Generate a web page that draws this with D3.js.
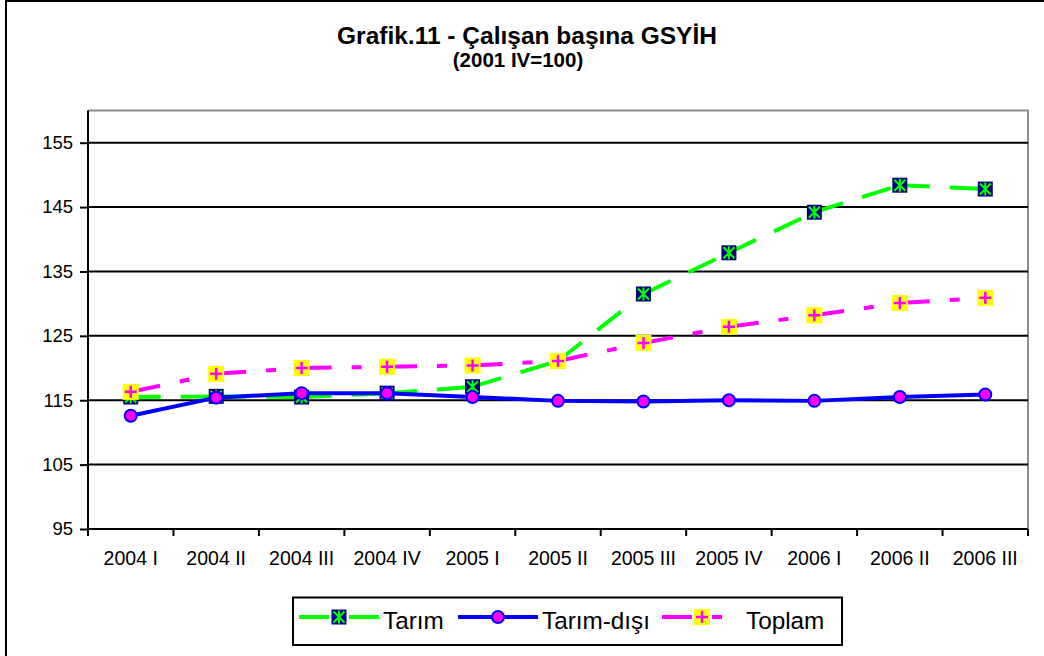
<!DOCTYPE html>
<html>
<head>
<meta charset="utf-8">
<script src="https://cdn.jsdelivr.net/npm/d3@7"></script>
<style>
  body { margin: 0; background: #fff; }
  svg { display: block; font-family: "Liberation Sans", Arial, sans-serif; }
</style>
</head>
<body>
<div id="chart"></div>
<script>
// data
const categories = ["2004 I", "2004 II", "2004 III", "2004 IV", "2005 I", "2005 II",
  "2005 III", "2005 IV", "2006 I", "2006 II", "2006 III"];
const tarim = [115.5, 115.6, 115.5, 116.1, 117.1, 121.1, 131.5, 137.9, 144.2, 148.4, 147.8];
const tarimDisi = [112.6, 115.4, 116.1, 116.1, 115.5, 114.9, 114.8, 115.0, 114.9, 115.5, 115.9];
const toplam = [116.3, 119.1, 120.0, 120.2, 120.4, 121.1, 123.9, 126.4, 128.2, 130.1, 130.9];
const yTicks = [95, 105, 115, 125, 135, 145, 155];

const W = 1044, H = 656;
const svg = d3.select("#chart").append("svg")
  .attr("width", W)
  .attr("height", H);

// outer frame
svg.append("rect")
  .attr("x", 6).attr("y", 1)
  .attr("width", W + 20).attr("height", H + 20)
  .style("fill", "none").style("stroke", "black").style("stroke-width", 2);

// titles
svg.append("text")
  .attr("x", 527).attr("y", 44)
  .attr("text-anchor", "middle")
  .attr("font-size", "24.5px").attr("font-weight", "bold")
  .text("Grafik.11 - Çalışan başına GSYİH");
svg.append("text")
  .attr("x", 518).attr("y", 67)
  .attr("text-anchor", "middle")
  .attr("font-size", "20.5px").attr("font-weight", "bold")
  .text("(2001 IV=100)");

const plotL = 88, plotR = 1028, plotT = 110.5, plotB = 529;
const x = d3.scaleBand().domain(categories).range([plotL, plotR]).padding(0);
const y = d3.scaleLinear().domain([95, 160]).range([plotB, plotT]);
const cx = c => x(c) + x.bandwidth() / 2;

// plot border (top, right) grey
svg.append("path")
  .attr("d", `M${plotL},${plotT}H${plotR}V${plotB}`)
  .style("fill", "none").style("stroke", "#8c8c8c").style("stroke-width", 2);

// gridlines
svg.append("g").selectAll("line")
  .data(yTicks.filter(d => d > 95))
  .join("line")
  .attr("x1", plotL).attr("x2", plotR)
  .attr("y1", d => y(d)).attr("y2", d => y(d))
  .style("stroke", "black").style("stroke-width", 2);

// y axis
const yAxis = svg.append("g")
  .attr("transform", `translate(${plotL},0)`)
  .call(d3.axisLeft(y).tickValues(yTicks).tickSize(8).tickPadding(7));
yAxis.select(".domain").remove();
yAxis.append("line").attr("y1", plotT).attr("y2", plotB)
  .style("stroke", "black").style("stroke-width", 2);
yAxis.selectAll(".tick line").style("stroke", "black").style("stroke-width", 2);
yAxis.selectAll(".tick text")
  .attr("font-size", "18.5px").attr("fill", "black")
  .attr("font-family", "Liberation Sans, Arial, sans-serif");

// x axis
const xg = svg.append("g");
xg.append("line").attr("x1", plotL).attr("x2", plotR)
  .attr("y1", plotB).attr("y2", plotB)
  .style("stroke", "black").style("stroke-width", 2);
xg.selectAll(".xt")
  .data(categories.map(c => x(c)).concat([plotR]))
  .join("line")
  .attr("x1", d => d).attr("x2", d => d)
  .attr("y1", plotB).attr("y2", plotB + 7)
  .style("stroke", "black").style("stroke-width", 2);
xg.selectAll("text")
  .data(categories)
  .join("text")
  .attr("x", d => cx(d)).attr("y", 565)
  .attr("text-anchor", "middle")
  .attr("font-size", "19.5px")
  .text(d => d);

// markers
function drawMarker(g, type, px, py) {
  if (type === "star") {
    const s = 7.5;
    g.append("rect").attr("x", px - s).attr("y", py - s)
      .attr("width", 2 * s).attr("height", 2 * s).style("fill", "#000080");
    const a = 5.5;
    g.append("path")
      .attr("d", `M${px - a},${py - a}L${px + a},${py + a}M${px + a},${py - a}L${px - a},${py + a}M${px},${py - 6.5}V${py + 6.5}`)
      .style("stroke", "#00ff00").style("stroke-width", 2);
  } else if (type === "circle") {
    g.append("circle").attr("cx", px).attr("cy", py).attr("r", 6)
      .style("fill", "#ff00ff").style("stroke", "#0000ff").style("stroke-width", 2);
  } else {
    const s = 8;
    g.append("rect").attr("x", px - s).attr("y", py - s)
      .attr("width", 2 * s).attr("height", 2 * s).style("fill", "#ffff00");
    g.append("path")
      .attr("d", `M${px - 6},${py}H${px + 6}M${px},${py - 6}V${py + 6}`)
      .style("stroke", "#ff00ff").style("stroke-width", 2.5);
  }
}

const series = [
  { name: "Tarım", values: tarim, color: "#00ff00", dash: "30,20", marker: "star" },
  { name: "Tarım-dışı", values: tarimDisi, color: "#0000ff", dash: null, marker: "circle" },
  { name: "Toplam", values: toplam, color: "#ff00ff", dash: "30,20,10,20", marker: "plus" }
];

series.forEach(s => {
  const g = svg.append("g");
  const pts = s.values.map((v, i) => [cx(categories[i]), y(v)]);
  // one path per segment so the dash pattern restarts at every point
  d3.pairs(pts).forEach(([p, q]) => {
    g.append("path")
      .attr("d", d3.line()([p, q]))
      .style("fill", "none").style("stroke", s.color).style("stroke-width", 4)
      .style("stroke-dasharray", s.dash);
  });
  pts.forEach(p => drawMarker(g, s.marker, p[0], p[1]));
});

// legend
const lg = svg.append("g");
lg.append("rect").attr("x", 293).attr("y", 597.5).attr("width", 549).attr("height", 47.5)
  .style("fill", "white").style("stroke", "black").style("stroke-width", 2);
const legendItems = [
  { lx: 299, tx: 383 },
  { lx: 458, tx: 542 },
  { lx: 662, tx: 746 }
];
series.forEach((s, i) => {
  const it = legendItems[i];
  const ly = 617;
  lg.append("path")
    .attr("d", `M${it.lx},${ly}H${it.lx + 80}`)
    .style("stroke", s.color).style("stroke-width", 4)
    .style("stroke-dasharray", s.dash);
  drawMarker(lg, s.marker, it.lx + 40, ly);
  lg.append("text").attr("x", it.tx).attr("y", 629)
    .attr("font-size", "24.3px").text(s.name);
});
</script>
</body>
</html>
